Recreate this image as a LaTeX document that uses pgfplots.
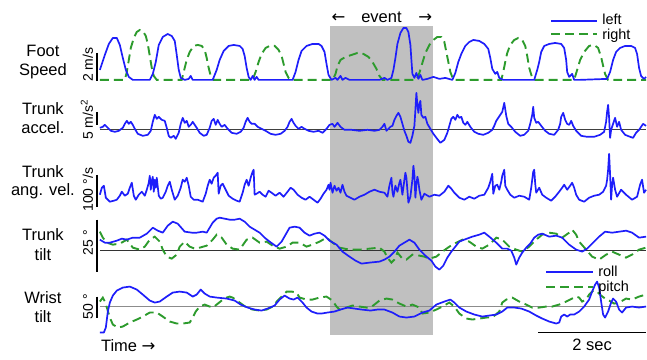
\documentclass[border=0pt]{standalone}
\usepackage{fontspec}
\setmainfont{Liberation Sans}
\newfontfamily\dejavu{DejaVu Sans}
\usepackage{pgfplots}
\pgfplotsset{compat=1.18}
\definecolor{myblue}{RGB}{30,30,250}
\definecolor{mygreen}{RGB}{45,155,45}
\definecolor{shade}{RGB}{192,192,192}
\newcommand\lab{\fontsize{16.5}{19}\selectfont}
\newcommand\sca{\fontsize{14}{16}\selectfont}
\newcommand\leg{\fontsize{14.5}{16}\selectfont}
\begin{document}
\begin{tikzpicture}
\begin{axis}[width=647pt,height=360pt,scale only axis,xmin=0,xmax=647,ymin=0,ymax=360,
  y dir=reverse,hide axis,clip=false,
  blue line/.style={myblue,line width=1.7pt,mark=none,line join=round},
  green line/.style={mygreen,line width=1.9pt,mark=none,dash pattern=on 9pt off 5pt}]
\path (axis cs:0,0) rectangle (axis cs:647,360);
% event shading
\addplot[draw=none,fill=shade] coordinates {(330,26)(434,26)(434,335)(330,335)} -- cycle;
% reference lines
\addplot[black!75,line width=1pt] coordinates {(100,130)(647,130)};
\addplot[black!80,line width=1pt] coordinates {(100,251)(647,251)};
\addplot[black!45,line width=1.1pt] coordinates {(100,307)(647,307)};
% scale bars
\addplot[black,line width=1.8pt] coordinates {(97,53)(97,81)};
\addplot[black,line width=1.8pt] coordinates {(97,112)(97,125)};
\addplot[black,line width=1.8pt] coordinates {(97,175)(97,207)};
\addplot[black,line width=1.8pt] coordinates {(97,220)(97,272)};
\addplot[black,line width=1.8pt] coordinates {(97,297)(97,318)};
\addplot[black,line width=1.8pt] coordinates {(539,333)(647,333)};

% ---- Foot speed: right (green) ----
\addplot[green line] coordinates {(100,80)(125,80)(127,72)(129,60)(131,48)(134,38)(137,32)(140,30)(143,31)(146,36)(148,44)(150,56)(152,68)(154,76)(157,80)(182,80)(184,72)(187,60)(190,52)(194,46)(198,45)(202,46)(205,50)(207,58)(209,68)(211,76)(214,80)(253,80)(256,72)(259,62)(262,54)(266,48)(270,46)(275,46)(279,50)(282,56)(284,64)(286,72)(289,78)(292,80)(333,80)(336,74)(338,66)(341,60)(346,57)(352,55)(358,53)(364,54)(369,57)(373,62)(377,69)(380,76)(383,80)(417,80)(420,73)(423,63)(426,53)(430,45)(434,40)(438,37)(442,37)(445,42)(447,52)(449,62)(451,72)(454,80)(502,80)(504,72)(506,62)(508,53)(511,45)(515,40)(519,38)(523,40)(526,46)(528,56)(530,68)(533,78)(536,80)(575,80)(578,70)(581,60)(585,52)(590,46)(595,45)(599,48)(602,57)(604,66)(606,74)(609,80)(647,80)};
% ---- Foot speed: left (blue) ----
\addplot[blue line] coordinates {(100,70)(105,55)(109,44)(113,38)(117,38)(120,45)(123,58)(126,70)(129,77)(133,80)(150,80)(153,74)(156,62)(159,45)(163,37)(168,34)(172,36)(175,41)(177,55)(179,70)(181,78)(185,80)(189,79)(191,76)(193,80)(213,80)(217,70)(220,60)(224,51)(229,46)(234,45)(240,46)(243,49)(245,56)(247,68)(249,77)(251,80)(253,76)(255,80)(257,77)(259,80)(293,80)(296,72)(299,60)(302,51)(307,46)(313,44)(319,44)(322,46)(325,52)(327,64)(329,75)(332,80)(336,78)(338,80)(341,76)(343,80)(346,78)(350,80)(380,80)(385,78)(388,80)(392,78)(394,70)(396,58)(398,44)(401,33)(404,28)(407,28)(409,32)(411,45)(412,60)(413,74)(415,78)(417,73)(419,79)(421,75)(423,80)(428,79)(434,77)(440,79)(446,78)(453,80)(456,73)(459,62)(462,54)(466,46)(470,42)(474,40)(480,41)(485,44)(489,49)(491,58)(493,69)(496,74)(498,72)(500,78)(504,80)(535,80)(538,70)(540,62)(542,52)(545,46)(550,44)(556,43)(562,44)(565,48)(567,60)(568,72)(570,77)(573,74)(575,80)(580,80)(608,79)(611,72)(614,60)(617,52)(621,48)(626,46)(632,46)(636,48)(638,54)(640,68)(642,76)(645,79)(647,77)};

% ---- Trunk accel ----
\addplot[blue line] coordinates {(100,128)(103,127)(105,125)(108,128)(111,131)(115,132)(119,131)(123,128)(125,124)(127,121)(129,124)(131,122)(133,125)(135,129)(138,134)(143,136)(148,135)(151,131)(153,122)(155,115)(157,119)(159,117)(162,120)(165,121)(167,128)(169,136)(171,138)(174,136)(176,139)(179,133)(181,124)(183,118)(185,123)(187,121)(189,127)(191,125)(193,122)(195,125)(197,128)(200,133)(204,136)(207,135)(210,128)(212,121)(214,119)(216,125)(218,120)(220,124)(222,127)(225,125)(228,129)(232,133)(237,134)(241,132)(244,128)(246,122)(248,118)(250,122)(252,124)(255,124)(258,127)(262,129)(266,131)(271,134)(276,135)(281,134)(285,131)(288,127)(290,122)(292,119)(294,123)(296,126)(299,129)(302,127)(305,129)(309,131)(314,132)(319,131)(323,133)(327,129)(330,125)(333,124)(335,127)(338,123)(341,127)(345,130)(352,130)(360,131)(368,130)(375,131)(380,130)(383,127)(385,124)(387,131)(389,129)(391,127)(393,126)(395,120)(397,116)(399,113)(401,117)(403,124)(405,131)(407,136)(409,142)(411,143)(413,136)(415,126)(416,110)(417,93)(418,105)(419,113)(420,104)(421,101)(422,115)(424,118)(426,117)(428,124)(431,129)(434,134)(437,138)(441,143)(445,140)(448,133)(450,126)(452,119)(454,117)(456,120)(458,115)(460,118)(462,117)(464,123)(466,125)(468,122)(471,127)(475,132)(479,134)(484,135)(489,133)(493,130)(495,126)(497,121)(499,118)(501,115)(503,112)(505,103)(507,116)(509,124)(512,127)(516,132)(521,136)(525,135)(529,131)(531,124)(533,115)(534,107)(535,118)(537,123)(539,122)(542,126)(546,131)(550,134)(555,135)(559,130)(561,124)(562,117)(564,113)(566,120)(568,124)(570,125)(572,121)(574,126)(577,131)(582,136)(588,137)(595,137)(601,135)(605,132)(607,122)(608,112)(609,105)(610,118)(611,138)(612,130)(614,124)(616,118)(618,127)(620,122)(622,130)(626,135)(631,137)(634,138)(637,133)(640,130)(642,127)(644,124)(647,126)};

% ---- Trunk angular velocity ----
\addplot[blue line] coordinates {(100,195)(102,188)(104,186)(106,198)(110,202)(114,201)(117,200)(120,196)(122,192)(125,196)(128,194)(130,188)(132,183)(134,196)(136,200)(139,195)(142,192)(145,196)(147,190)(149,183)(150,176)(151,190)(152,181)(153,177)(154,192)(155,180)(156,188)(157,178)(159,196)(161,199)(163,198)(166,192)(168,186)(170,182)(172,190)(175,200)(178,196)(181,188)(183,180)(185,182)(187,178)(189,186)(191,197)(194,200)(198,200)(203,202)(206,194)(208,186)(210,180)(212,184)(214,178)(216,176)(218,173)(219,194)(221,186)(223,184)(226,190)(229,196)(233,199)(237,201)(240,202)(243,193)(245,185)(247,180)(249,186)(251,178)(253,172)(254,170)(255,195)(257,194)(260,192)(263,195)(266,197)(269,191)(272,193)(276,196)(280,193)(284,197)(288,192)(291,188)(294,190)(298,195)(302,198)(306,200)(310,197)(314,200)(318,203)(321,199)(324,194)(327,190)(329,185)(330,190)(331,183)(333,193)(335,186)(337,191)(339,188)(341,193)(343,185)(345,192)(347,196)(351,198)(355,200)(360,197)(365,195)(370,192)(375,190)(380,192)(385,193)(388,197)(390,186)(392,178)(393,192)(394,197)(396,186)(398,192)(400,183)(401,180)(403,195)(405,180)(406,173)(407,178)(409,203)(411,197)(413,180)(414,166)(415,175)(416,198)(417,185)(418,177)(419,182)(420,190)(422,200)(425,194)(430,197)(435,195)(440,196)(445,192)(449,186)(452,189)(455,193)(460,198)(465,200)(470,197)(475,199)(480,196)(485,195)(489,188)(491,182)(493,174)(494,194)(496,186)(498,185)(500,190)(502,182)(503,176)(505,170)(506,186)(508,190)(511,195)(515,198)(520,196)(525,197)(530,200)(532,188)(534,172)(535,170)(536,184)(537,193)(540,188)(543,195)(547,198)(552,201)(556,197)(560,192)(563,188)(565,185)(568,190)(571,186)(573,183)(575,188)(577,195)(580,200)(585,202)(590,198)(595,196)(600,195)(604,192)(607,186)(608,180)(609,170)(610,154)(611,175)(612,200)(613,185)(614,178)(616,190)(618,197)(622,190)(627,195)(633,200)(638,197)(641,185)(643,180)(645,193)(647,190)};

% ---- Trunk tilt ----
\addplot[green line] coordinates {(100,232)(103,238)(107,243)(113,245)(120,244)(127,240)(133,248)(140,250)(145,247)(150,240)(155,237)(160,242)(163,250)(167,257)(172,259)(177,255)(180,247)(185,242)(190,247)(195,249)(200,248)(207,246)(213,240)(217,235)(222,238)(227,245)(233,249)(240,250)(247,240)(253,238)(260,243)(267,242)(273,246)(280,249)(287,247)(293,243)(300,243)(307,247)(313,245)(320,242)(327,238)(333,243)(340,248)(350,250)(360,250)(370,249)(380,248)(385,252)(388,258)(392,263)(395,260)(398,253)(403,259)(407,260)(413,255)(420,256)(425,257)(430,259)(437,257)(443,252)(450,247)(457,243)(463,240)(470,242)(477,247)(483,249)(490,245)(497,238)(503,240)(510,247)(517,250)(523,252)(530,247)(537,240)(543,235)(550,233)(557,234)(563,238)(570,233)(573,230)(577,235)(580,242)(587,250)(593,257)(600,260)(607,255)(613,252)(620,255)(627,258)(633,255)(640,250)(647,248)};
\addplot[blue line] coordinates {(100,240)(105,243)(110,243)(117,241)(122,239)(127,240)(133,238)(140,238)(147,234)(153,228)(158,231)(163,233)(168,226)(173,222)(178,224)(185,232)(192,233)(197,233)(203,232)(207,233)(210,228)(213,223)(217,219)(220,218)(225,219)(230,220)(235,220)(240,219)(245,222)(250,227)(255,230)(260,233)(265,238)(270,242)(277,247)(282,242)(286,235)(290,228)(295,227)(300,228)(305,233)(310,236)(315,234)(320,233)(325,236)(330,241)(337,245)(343,252)(350,257)(356,261)(362,264)(370,263)(380,262)(385,260)(390,257)(395,252)(400,246)(405,243)(410,240)(415,243)(420,250)(426,256)(432,261)(436,267)(440,270)(444,266)(448,258)(452,252)(456,247)(460,242)(465,240)(473,237)(480,235)(485,233)(490,237)(497,243)(503,249)(508,249)(512,251)(515,258)(517,265)(520,258)(523,253)(527,248)(531,244)(535,238)(539,235)(543,234)(550,237)(557,236)(563,238)(570,245)(577,250)(583,252)(588,249)(593,244)(597,240)(600,237)(606,232)(613,233)(620,232)(627,231)(633,233)(640,238)(647,237)};

% ---- Wrist tilt ----
\addplot[green line] coordinates {(100,302)(103,298)(105,302)(107,308)(110,318)(113,325)(118,328)(123,327)(130,323)(137,320)(143,317)(150,313)(157,313)(163,317)(170,322)(177,324)(183,324)(190,323)(193,318)(196,312)(200,307)(205,305)(210,307)(213,308)(217,305)(222,301)(227,298)(230,297)(233,298)(240,303)(247,308)(253,310)(260,311)(267,310)(273,307)(278,301)(282,297)(287,292)(292,292)(297,293)(300,298)(307,300)(313,300)(320,298)(327,297)(333,301)(337,307)(340,310)(347,308)(353,306)(360,307)(367,308)(371,308)(375,305)(380,301)(387,299)(393,300)(400,304)(407,307)(413,305)(420,308)(423,314)(430,313)(437,310)(443,307)(450,303)(455,307)(460,314)(467,319)(473,320)(480,319)(487,318)(493,318)(500,312)(503,303)(507,300)(513,298)(520,302)(527,305)(533,308)(540,308)(547,307)(553,307)(560,305)(567,302)(573,299)(577,297)(580,298)(583,302)(587,300)(590,295)(594,291)(598,292)(602,296)(606,299)(610,301)(615,304)(620,303)(627,299)(633,300)(640,297)(647,295)};
\addplot[blue line] coordinates {(100,333)(104,333)(106,328)(108,312)(110,303)(113,296)(117,291)(123,288)(130,287)(137,290)(143,295)(150,301)(155,303)(160,302)(167,297)(173,293)(180,292)(187,293)(193,297)(197,295)(201,290)(205,294)(210,297)(217,298)(227,299)(235,301)(241,305)(248,308)(255,310)(262,311)(268,309)(275,306)(280,300)(285,296)(290,299)(294,300)(298,298)(303,303)(307,308)(312,312)(318,314)(322,314)(328,313)(335,312)(341,310)(348,308)(355,309)(362,310)(371,311)(378,310)(385,310)(393,313)(400,317)(407,318)(415,317)(423,313)(430,311)(437,305)(445,302)(451,300)(455,303)(460,308)(467,312)(475,315)(483,317)(490,316)(497,315)(503,312)(508,308)(515,308)(522,309)(530,312)(537,316)(543,319)(550,322)(557,324)(560,323)(562,317)(565,315)(568,317)(571,315)(575,315)(580,312)(585,307)(590,300)(593,292)(596,285)(598,282)(600,288)(602,302)(604,315)(606,318)(609,312)(612,303)(614,299)(617,302)(620,310)(623,313)(627,308)(633,307)(640,308)(647,307)};

% ---- legends ----
\addplot[blue line] coordinates {(552,21)(598,21)};
\addplot[green line] coordinates {(552,34)(598,34)};
\addplot[myblue,line width=1.9pt,mark=none] coordinates {(547,272.5)(594,272.5)};
\addplot[green line] coordinates {(547,287)(594,287)};
\node[anchor=base west,font=\leg,inner sep=0pt] at (axis cs:603,25) {left};
\node[anchor=base west,font=\leg,inner sep=0pt] at (axis cs:603,40) {right};
\node[anchor=base west,font=\leg,inner sep=0pt] at (axis cs:599,277) {roll};
\node[anchor=base west,font=\leg,inner sep=0pt] at (axis cs:599,292) {pitch};

% ---- event label ----
\node[anchor=base,font=\lab,inner sep=0pt] at (axis cs:382,23) {event};
\node[anchor=base,font=\lab\dejavu,inner sep=0pt] at (axis cs:339,23) {←};
\node[anchor=base,font=\lab\dejavu,inner sep=0pt] at (axis cs:426,23) {→};

% ---- row labels ----
\node[anchor=base,font=\lab,inner sep=0pt] at (axis cs:43,57) {Foot};
\node[anchor=base,font=\lab,inner sep=0pt] at (axis cs:43,76) {Speed};
\node[anchor=base,font=\lab,inner sep=0pt] at (axis cs:43,115) {Trunk};
\node[anchor=base,font=\lab,inner sep=0pt] at (axis cs:43,134) {accel.};
\node[anchor=base,font=\lab,inner sep=0pt] at (axis cs:43,178) {Trunk};
\node[anchor=base,font=\lab,inner sep=0pt] at (axis cs:43,196) {ang. vel.};
\node[anchor=base,font=\lab,inner sep=0pt] at (axis cs:43,241) {Trunk};
\node[anchor=base,font=\lab,inner sep=0pt] at (axis cs:43,261) {tilt};
\node[anchor=base,font=\lab,inner sep=0pt] at (axis cs:43,304) {Wrist};
\node[anchor=base,font=\lab,inner sep=0pt] at (axis cs:43,323) {tilt};

% ---- scale labels ----
\node[rotate=90,anchor=base,font=\sca,inner sep=0pt] at (axis cs:93,65) {2 m/s};
\node[rotate=90,anchor=base,font=\sca,inner sep=0pt] at (axis cs:93,120) {5 m/s\textsuperscript{2}};
\node[rotate=90,anchor=base,font=\sca,inner sep=0pt] at (axis cs:93,190) {100 °/s};
\node[rotate=90,anchor=base,font=\sca,inner sep=0pt] at (axis cs:93,243) {25 °};
\node[rotate=90,anchor=base,font=\sca,inner sep=0pt] at (axis cs:93,307) {50 °};

% ---- bottom texts ----
\node[anchor=base west,font=\lab,inner sep=0pt] at (axis cs:101,352) {Time {\dejavu→}};
\node[anchor=base,font=\lab,inner sep=0pt] at (axis cs:593,351) {2 sec};
\end{axis}
\end{tikzpicture}
\end{document}
